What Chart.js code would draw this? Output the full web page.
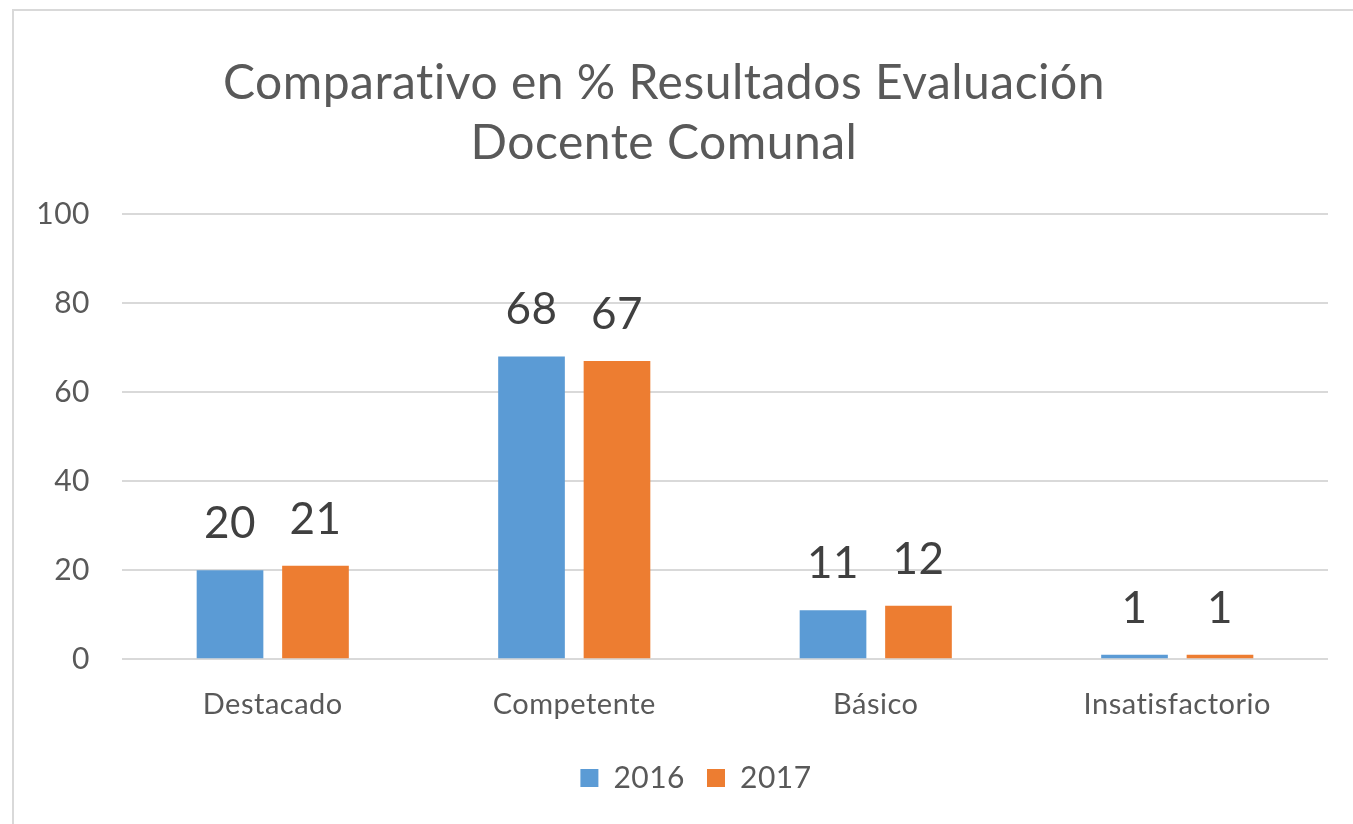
<!DOCTYPE html>
<html>
<head>
<meta charset="utf-8">
<script src="https://cdn.jsdelivr.net/npm/chart.js@4"></script>
<style>
  html, body { margin: 0; padding: 0; background: #ffffff; width: 1353px; height: 824px; overflow: hidden; }
  #frame { position: absolute; left: 12px; top: 9px; width: 1400px; height: 900px; border: 2px solid #d9d9d9; box-sizing: border-box; }
  #wrap { position: absolute; left: 0; top: 0; width: 1333px; height: 824px; }
</style>
</head>
<body>
<div id="frame"></div>
<div id="wrap"><canvas id="c"></canvas></div>
<script>
const categories = ["Destacado", "Competente", "Básico", "Insatisfactorio"];
const seriesNames = ["2016", "2017"];
const values2016 = [20, 68, 11, 1];
const values2017 = [21, 67, 12, 1];
const yTicks = [0, 20, 40, 60, 80, 100];
const titleLines = ["Comparativo en % Resultados Evaluación", "Docente Comunal"];

const FONT = "Lato, 'Open Sans', sans-serif";

const noLigatures = {
  id: 'noLigatures',
  beforeDraw(chart) { chart.ctx.letterSpacing = '0.5px'; }
};

const legendShift = {
  id: 'legendShift',
  afterLayout(chart) {
    const lg = chart.legend;
    if (lg) { lg.left += 30; lg.right += 30; lg.top -= 9; lg.bottom -= 9; }
  }
};

const valueLabels = {
  id: 'valueLabels',
  afterDatasetsDraw(chart) {
    const ctx = chart.ctx;
    ctx.save();
    ctx.font = "44px " + FONT;
    ctx.fillStyle = "#404040";
    ctx.textAlign = "center";
    ctx.textBaseline = "alphabetic";
    chart.data.datasets.forEach((ds, i) => {
      const meta = chart.getDatasetMeta(i);
      meta.data.forEach((bar, j) => {
        ctx.fillText(String(ds.data[j]), bar.x, bar.y - 32);
      });
    });
    ctx.restore();
  }
};

new Chart(document.getElementById('c'), {
  type: 'bar',
  data: {
    labels: categories,
    datasets: [
      { label: seriesNames[0], data: values2016, backgroundColor: '#5B9BD5', borderWidth: 0 },
      { label: seriesNames[1], data: values2017, backgroundColor: '#ED7D31', borderWidth: 0 }
    ]
  },
  options: {
    responsive: true,
    maintainAspectRatio: false,
    animation: false,
    categoryPercentage: 0.567,
    barPercentage: 0.78,
    layout: { padding: { left: 0, right: 5, top: 54, bottom: 12 } },
    plugins: {
      title: {
        display: true,
        text: titleLines,
        color: '#595959',
        font: { family: FONT, size: 48, weight: 'normal', lineHeight: 1.25 },
        padding: { top: 0, bottom: 40 }
      },
      legend: {
        position: 'bottom',
        labels: {
          color: '#595959',
          font: { family: FONT, size: 30 },
          boxWidth: 18,
          boxHeight: 18,
          padding: 22
        }
      },
      tooltip: { enabled: false }
    },
    scales: {
      x: {
        grid: { display: false, drawTicks: false },
        border: { display: false },
        ticks: { color: '#595959', font: { family: FONT, size: 29 }, padding: 28 }
      },
      y: {
        min: 0, max: 100,
        afterFit(scale) { scale.width = 122; },
        afterBuildTicks(scale) { scale.ticks = yTicks.map(v => ({ value: v })); },
        grid: { color: '#d9d9d9', lineWidth: 2, drawTicks: false },
        border: { display: false },
        ticks: { color: '#595959', font: { family: FONT, size: 30 }, padding: 32 }
      }
    }
  },
  plugins: [noLigatures, legendShift, valueLabels]
});
</script>
</body>
</html>
